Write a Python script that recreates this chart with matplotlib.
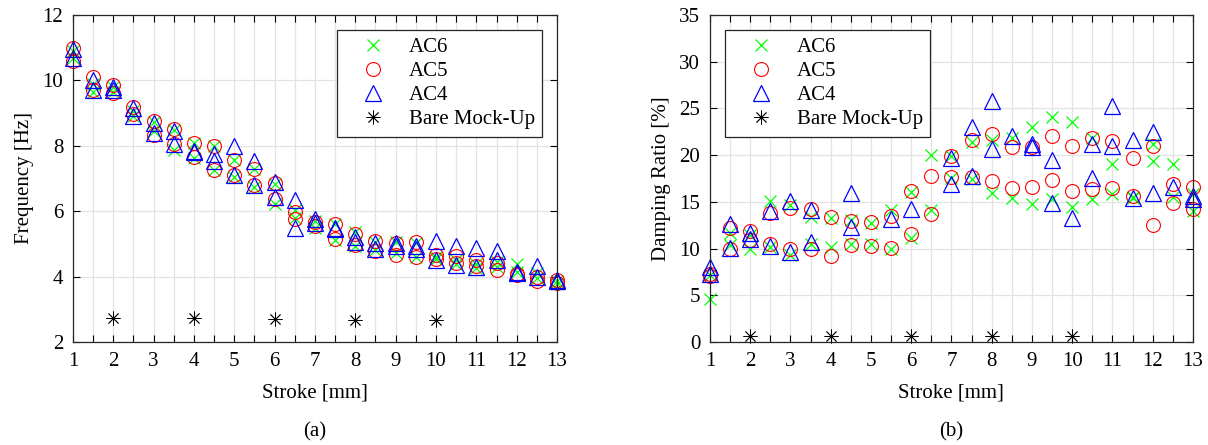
import numpy as np
import matplotlib
matplotlib.use("Agg")
import matplotlib.pyplot as plt
from matplotlib.ticker import MultipleLocator

matplotlib.rcParams['font.family'] = ['Liberation Serif', 'DejaVu Serif']

stroke = np.arange(1, 13.01, 0.5)
bare_stroke = [2, 4, 6, 8, 10]
nan = np.nan

# natural frequency [Hz], two identified values per stroke
freq_ac6_hi = [10.9, 9.9, 9.8, 9.05, 8.72, 8.48, 8.08, 7.98, 7.58, 7.3, 6.82, 6.04, 5.7,
               5.6, 5.35, 5.07, 5.07, 5.02, 4.61, 4.5, 4.4, 4.46, 4.4, 4.1, 3.85]
freq_ac6_lo = [10.7, 9.66, 9.65, 8.9, 8.44, 7.88, 7.62, 7.27, 7.06, 6.74, 6.22, 5.8, 5.5,
               5.12, 4.93, 4.8, 4.71, 4.6, 4.55, 4.38, 4.25, 4.3, 4.15, 3.95, 3.76]
freq_ac5_hi = [10.99, 10.1, 9.87, 9.2, 8.77, 8.5, 8.1, 7.98, 7.56, 7.3, 6.85, 5.96, 5.66,
               5.6, 5.3, 5.1, 5.04, 5.07, 4.66, 4.63, 4.5, 4.41, 4.08, 4.0, 3.9]
freq_ac5_lo = [10.6, 9.71, 9.6, 8.97, 8.33, 8.05, 7.65, 7.27, 7.12, 6.79, 6.38, 5.77, 5.55,
               5.15, 4.97, 4.77, 4.66, 4.61, 4.53, 4.41, 4.33, 4.2, 4.04, 3.87, 3.8]
freq_ac4_hi = [10.96, 10.0, 9.8, 9.15, 8.7, 8.45, 7.85, 7.75, 8.0, 7.55, 6.9, 6.33, 5.77,
               5.5, 5.2, 5.04, 5.02, 4.95, 5.1, 4.94, 4.87, 4.77, 4.14, 4.31, 3.9]
freq_ac4_lo = [10.7, 9.7, 9.7, 8.9, 8.4, 8.05, 7.8, 7.55, 7.1, 6.8, 6.42, 5.5, 5.65,
               5.45, 5.05, 4.85, 4.95, 4.85, 4.5, 4.36, 4.3, 4.51, 4.1, 3.98, 3.85]
freq_bare = [2.73, 2.72, 2.69, 2.67, 2.66]

# damping ratio [%]
damp_ac6_hi = [7.2, 11.7, 11.5, 15.1, 14.7, 13.4, 13.3, 13.1, 12.7, 14.1, 16.1, 20.0, 19.9,
               21.4, 21.6, 21.8, 23.0, 24.1, 23.6, 21.8, 19.0, 15.5, 21.2, 19.0, 15.8]
damp_ac6_lo = [4.6, 10.4, 9.9, 10.2, 9.3, 10.5, 10.2, 10.5, 10.5, 9.9, 11.1, 14.1, 17.5,
               17.4, 16.0, 15.4, 14.8, 15.3, 14.5, 15.3, 15.8, 15.4, 19.4, 15.5, 14.0]
damp_ac5_hi = [7.3, 12.2, 11.9, 13.8, 14.3, 14.2, 13.4, 13.0, 12.8, 13.5, 16.2, 17.8, 19.9,
               21.6, 22.3, 20.9, 20.9, 22.1, 21.0, 21.8, 21.5, 19.7, 21.0, 16.9, 16.6]
damp_ac5_lo = [7.1, 10.0, 10.9, 10.5, 10.0, 10.0, 9.2, 10.4, 10.3, 10.1, 11.6, 13.7, 17.7,
               17.7, 17.2, 16.5, 16.6, 17.3, 16.2, 16.4, 16.5, 15.6, 12.5, 14.9, 14.2]
damp_ac4_hi = [8.0, 12.6, 11.7, 14.0, 15.1, 14.1, nan, 15.9, nan, 13.2, 14.2, nan, 19.7,
               23.0, 25.8, 22.0, 21.2, 19.5, 13.3, 21.2, 25.3, 21.6, 22.5, 16.6, 15.6]
damp_ac4_lo = [7.3, 10.1, 11.0, 10.3, 9.6, 10.7, nan, 12.3, nan, nan, nan, nan, 16.9,
               17.8, 20.7, nan, 20.9, 14.9, nan, 17.5, 21.0, 15.4, 16.0, nan, 15.3]
damp_bare = [0.6, 0.6, 0.6, 0.6, 0.6]

fig = plt.figure(figsize=(12.08, 4.45), dpi=100)
ax1 = fig.add_axes([0.0604, 0.2315, 0.4007, 0.7348])
ax2 = fig.add_axes([0.5877, 0.2315, 0.3998, 0.7348])

ASTERISK = (8, 2, 0)   # + and x combined, like MATLAB '*'


def draw(ax, ac6, ac5, ac4, bare):
    kw = dict(linestyle='none', clip_on=False)
    ax.plot(stroke, ac6[0], marker='x', color='#00ff00', ms=8, mew=0.9, label='AC6', **kw)
    ax.plot(stroke, ac6[1], marker='x', color='#00ff00', ms=8, mew=0.9, **kw)
    ax.plot(stroke, ac5[0], marker='o', mfc='none', mec='#ff0000', ms=10, mew=0.8, label='AC5', **kw)
    ax.plot(stroke, ac5[1], marker='o', mfc='none', mec='#ff0000', ms=10, mew=0.8, **kw)
    ax.plot(stroke, ac4[0], marker='^', mfc='none', mec='#0000ff', ms=11, mew=0.9, label='AC4', **kw)
    ax.plot(stroke, ac4[1], marker='^', mfc='none', mec='#0000ff', ms=11, mew=0.9, **kw)
    ax.plot(bare_stroke, bare, marker=ASTERISK, color='k', ms=10, mew=0.6,
            label='Bare Mock-Up', **kw)
    ax.set_xlim(1, 13)
    ax.xaxis.set_major_locator(MultipleLocator(1))
    ax.xaxis.set_minor_locator(MultipleLocator(0.5))
    ax.grid(True, which='major', color='#e3e3e3', lw=0.9)
    ax.grid(True, which='minor', axis='x', color='#e3e3e3', lw=0.9)
    ax.set_axisbelow(True)
    ax.tick_params(which='both', direction='in', top=True, right=True,
                   labelsize=15, length=5, width=0.8, pad=7)
    for s in ax.spines.values():
        s.set_linewidth(0.9)
        s.set_color('#262626')
        s.set_zorder(5)
    ax.set_xlabel('Stroke [mm]', fontsize=15, labelpad=9)


def add_legend(ax, loc, anchor):
    leg = ax.legend(loc=loc, bbox_to_anchor=anchor, borderaxespad=0, fontsize=15,
                    fancybox=False, edgecolor='#262626', framealpha=1, borderpad=0.35,
                    handletextpad=0.3, labelspacing=0.22, handlelength=2.8)
    leg.get_frame().set_linewidth(0.9)


draw(ax1, (freq_ac6_hi, freq_ac6_lo), (freq_ac5_hi, freq_ac5_lo),
     (freq_ac4_hi, freq_ac4_lo), freq_bare)
ax1.set_ylim(2, 12)
ax1.yaxis.set_major_locator(MultipleLocator(2))
ax1.set_ylabel('Frequency [Hz]', fontsize=15, labelpad=6)
add_legend(ax1, 'upper right', (0.969, 0.954))

draw(ax2, (damp_ac6_hi, damp_ac6_lo), (damp_ac5_hi, damp_ac5_lo),
     (damp_ac4_hi, damp_ac4_lo), damp_bare)
ax2.set_ylim(0, 35)
ax2.yaxis.set_major_locator(MultipleLocator(5))
ax2.set_ylabel('Damping Ratio [%]', fontsize=15, labelpad=6)
add_legend(ax2, 'upper left', (0.031, 0.954))

fig.text(0.2608, 0.02, '(a)', ha='center', fontsize=15)
fig.text(0.7876, 0.02, '(b)', ha='center', fontsize=15)

fig.savefig('out.png', dpi=100)
